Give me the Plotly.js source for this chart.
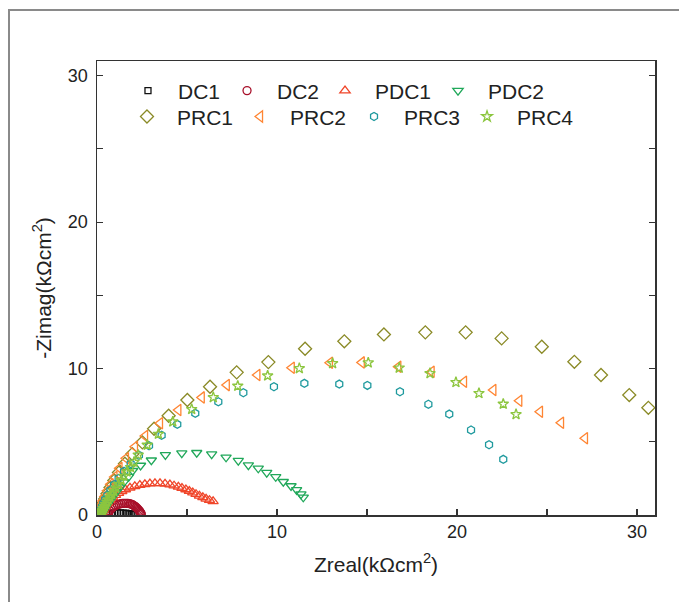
<!DOCTYPE html>
<html>
<head>
<meta charset="utf-8">
<script src="https://cdn.plot.ly/plotly-3.0.1.min.js"></script>
<style>
html,body{margin:0;padding:0;background:#fff;}
#chart{position:absolute;left:0;top:0;width:679px;height:602px;}
#frame{position:absolute;left:8px;top:9px;width:720px;height:700px;border-left:2px solid #8a8a8a;border-top:2px solid #8a8a8a;pointer-events:none;}
</style>
</head>
<body>
<div id="chart"></div>
<div id="frame"></div>
<script>
// ---- data (kΩcm²) ----
var seriesNames = ["DC1","DC2","PDC1","PDC2","PRC1","PRC2","PRC3","PRC4"];

var dc1X = [0.55,0.7,0.85,1.0,1.15,1.3,1.45,1.6,1.72,1.83,1.93,2.02,2.1];
var dc1Y = [0.03,0.08,0.11,0.13,0.14,0.14,0.13,0.12,0.1,0.08,0.06,0.04,0.02];

var dc2X = [0.6,0.64,0.7,0.77,0.85,0.94,1.03,1.13,1.23,1.33,1.43,1.53,1.63,1.72,1.81,1.89,1.97,2.04,2.11,2.17,2.23,2.28,2.33,2.37,2.41,2.44,2.46];
var dc2Y = [0.05,0.17,0.29,0.4,0.5,0.58,0.65,0.7,0.74,0.77,0.79,0.8,0.8,0.79,0.77,0.74,0.7,0.65,0.59,0.53,0.46,0.39,0.32,0.25,0.18,0.12,0.07];

var pdc1X = [0.28,0.36,0.46,0.58,0.72,0.87,1.03,1.2,1.38,1.58,1.83,2.1,2.38,2.66,2.94,3.22,3.5,3.78,4.05,4.28,4.52,4.72,4.94,5.13,5.32,5.5,5.69,5.88,6.06,6.25,6.45];
var pdc1Y = [0.1,0.35,0.6,0.82,1.02,1.2,1.36,1.5,1.62,1.74,1.86,1.96,2.04,2.1,2.14,2.16,2.16,2.13,2.07,2.0,1.92,1.84,1.74,1.64,1.53,1.42,1.31,1.2,1.1,1.01,0.93];

var pdc2X = [0.3,0.38,0.48,0.6,0.74,0.9,1.08,1.28,1.5,1.76,1.98,2.42,3.02,3.8,4.71,5.54,6.37,7.17,7.85,8.41,8.96,9.43,9.93,10.35,10.78,11.09,11.33,11.46];
var pdc2Y = [0.15,0.32,0.52,0.75,1.0,1.28,1.58,1.9,2.25,2.62,3.02,3.38,3.74,4.1,4.22,4.25,4.16,3.94,3.71,3.41,3.19,2.89,2.61,2.27,1.98,1.71,1.43,1.21];

var prc1X = [0.17,0.21,0.27,0.35,0.45,0.58,0.75,0.96,1.22,1.55,1.96,2.52,3.17,3.98,5.02,6.28,7.76,9.52,11.56,13.74,15.94,18.24,20.48,22.48,24.71,26.52,28.0,29.57,30.63];
var prc1Y = [0.14,0.33,0.55,0.8,1.1,1.45,1.87,2.35,2.9,3.5,4.16,4.96,5.89,6.78,7.85,8.76,9.74,10.44,11.35,11.86,12.33,12.47,12.47,12.06,11.49,10.46,9.56,8.19,7.32];

var prc2X = [0.1,0.13,0.18,0.24,0.32,0.43,0.57,0.75,0.97,1.25,1.61,2.11,2.67,3.5,4.52,5.82,7.21,8.91,10.82,12.94,14.71,16.74,18.59,20.39,22.02,23.46,24.61,25.78,27.11];
var prc2Y = [0.1,0.25,0.45,0.68,0.95,1.27,1.65,2.1,2.6,3.2,3.87,4.66,5.39,6.26,7.17,8.03,8.87,9.56,10.05,10.4,10.42,10.12,9.78,9.1,8.53,7.8,7.05,6.3,5.24];

var prc3X = [0.14,0.17,0.21,0.27,0.35,0.45,0.58,0.75,0.95,1.2,1.5,1.87,2.33,2.89,3.59,4.46,5.46,6.74,8.13,9.83,11.52,13.46,15.02,16.83,18.41,19.57,20.78,21.78,22.57];
var prc3Y = [0.05,0.18,0.35,0.55,0.78,1.05,1.35,1.7,2.07,2.5,2.98,3.5,4.08,4.73,5.44,6.19,6.94,7.73,8.35,8.76,8.99,8.94,8.85,8.42,7.56,6.89,5.8,4.8,3.8];

var prc4X = [0.2,0.23,0.27,0.31,0.36,0.42,0.48,0.55,0.63,0.72,0.82,0.93,1.05,1.19,1.34,1.5,1.67,1.86,2.06,2.29,2.79,3.41,4.21,5.26,6.46,7.82,9.48,11.24,13.09,15.07,16.79,18.5,19.94,21.22,22.57,23.28];
var prc4Y = [0.05,0.14,0.24,0.35,0.47,0.6,0.74,0.89,1.05,1.23,1.42,1.63,1.86,2.11,2.38,2.66,2.95,3.26,3.62,4.1,4.78,5.53,6.37,7.22,8.03,8.81,9.51,10.01,10.35,10.4,10.05,9.67,9.06,8.31,7.58,6.87];

var xTickVals = [0,10,20,30];
var yTickVals = [0,10,20,30];

// ---- styling ----
var xs = [dc1X,dc2X,pdc1X,pdc2X,prc1X,prc2X,prc3X,prc4X];
var ys = [dc1Y,dc2Y,pdc1Y,pdc2Y,prc1Y,prc2Y,prc3Y,prc4Y];
var symbols = ["square-open","circle-open","triangle-up-open","triangle-down-open","diamond-open","triangle-left-open","hexagon-open","star-open"];
var colors = ["#111111","#a8102a","#f0462a","#20a85a","#8a8a26","#ff8533","#1f9a9e","#8cc63f"];
var sizes = [6,8,9,9,10,10,8,8];
var legendIds = ["legend","legend2","legend3","legend4","legend5","legend6","legend7","legend8"];
var legX = [0.0376,0.2151,0.3907,0.5932,0.0358,0.2384,0.4427,0.6452];
var legY = [0.934,0.934,0.934,0.934,0.877,0.877,0.877,0.877];

var traces = [];
for (var i = 0; i < seriesNames.length; i++) {
  traces.push({
    type: "scatter", mode: "markers", name: seriesNames[i],
    x: xs[i], y: ys[i], legend: legendIds[i],
    marker: {symbol: symbols[i], size: sizes[i], color: colors[i], line: {color: colors[i], width: 1.3}},
    hoverinfo: "skip"
  });
}

var tickFont = {family: "Liberation Sans Narrow, Arial Narrow, Liberation Sans, Arial, sans-serif", size: 18, color: "#222"};
var textFont = {family: "Liberation Sans, Arial, sans-serif", size: 21, color: "#222"};

var layout = {
  width: 679, height: 602,
  margin: {l: 97, r: 24, t: 61, b: 87},
  paper_bgcolor: "rgba(0,0,0,0)", plot_bgcolor: "#fff",
  showlegend: true,
  xaxis: {
    range: [0, 31], tickvals: xTickVals, ticktext: xTickVals.map(String),
    ticks: "inside", ticklen: 6, tickwidth: 1.2, tickcolor: "#333",
    minor: {tickvals: [5,15,25], ticks: "inside", ticklen: 6, tickwidth: 1.2, tickcolor: "#333"},
    showline: true, linecolor: "#333", linewidth: 1.5, mirror: true,
    showgrid: false, zeroline: false, tickfont: tickFont,
    title: {text: "Zreal(kΩcm<sup>2</sup>)", font: textFont, standoff: 16}
  },
  yaxis: {
    range: [0, 31], tickvals: yTickVals, ticktext: yTickVals.map(String),
    ticks: "inside", ticklen: 6, tickwidth: 1.2, tickcolor: "#333",
    minor: {tickvals: [5,15,25], ticks: "inside", ticklen: 6, tickwidth: 1.2, tickcolor: "#333"},
    showline: true, linecolor: "#333", linewidth: 1.5, mirror: "ticks",
    showgrid: false, zeroline: false, tickfont: tickFont, ticklabelstandoff: 4,
    title: {text: "-Zimag(kΩcm<sup>2</sup>)", font: textFont, standoff: 10}
  }
};
for (var j = 0; j < legendIds.length; j++) {
  layout[legendIds[j]] = {
    x: legX[j], y: legY[j], xanchor: "left", yanchor: "middle",
    orientation: "h", font: textFont, bgcolor: "rgba(0,0,0,0)", borderwidth: 0,
    itemwidth: 50, itemclick: false, itemdoubleclick: false
  };
}

Plotly.newPlot("chart", traces, layout, {displayModeBar: false, staticPlot: true});
</script>
</body>
</html>
